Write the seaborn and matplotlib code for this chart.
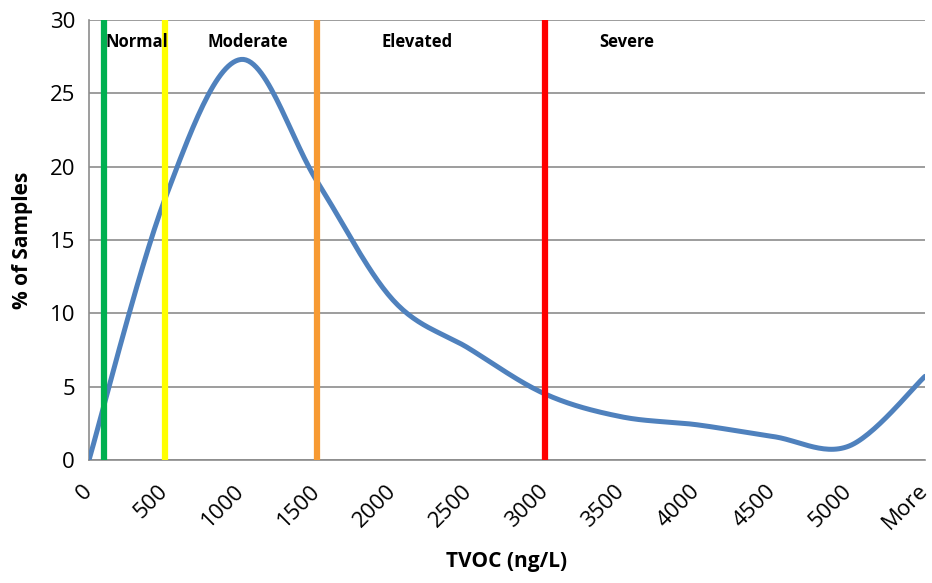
import numpy as np
import pandas as pd
import matplotlib
matplotlib.use('Agg')
import matplotlib.pyplot as plt
import seaborn as sns

# TVOC bins and share of samples
bins = ['0', '500', '1000', '1500', '2000', '2500', '3000', '3500', '4000', '4500', '5000', 'More']
pct_samples = [0.0, 17.8, 27.3, 19.0, 10.9, 7.6, 4.5, 2.95, 2.4, 1.6, 0.95, 5.7]

# category thresholds (ng/L) and their labels
thresholds = [100, 500, 1500, 3000]
threshold_colors = ['#00B050', '#FFFF00', '#F79A32', '#FF0000']
zone_names = ['Normal', 'Moderate', 'Elevated', 'Severe']
zone_centres = [315, 1045, 2160, 3540]

df = pd.DataFrame({'bin': bins, 'pct': pct_samples})
df['pos'] = np.arange(len(df))


def smooth(x, y, n=30):
    # Excel-style smoothed line: cubic Bezier with Catmull-Rom control points
    x = np.asarray(x, float)
    y = np.asarray(y, float)
    px = np.concatenate([[x[0]], x, [x[-1]]])
    py = np.concatenate([[y[0]], y, [y[-1]]])
    xs, ys = [], []
    t = np.linspace(0, 1, n, endpoint=False)
    for i in range(1, len(px) - 2):
        p0 = np.array([px[i], py[i]])
        p3 = np.array([px[i + 1], py[i + 1]])
        c1 = p0 + (np.array([px[i + 1], py[i + 1]]) - np.array([px[i - 1], py[i - 1]])) / 6
        c2 = p3 - (np.array([px[i + 2], py[i + 2]]) - np.array([px[i], py[i]])) / 6
        b = ((1 - t) ** 3)[:, None] * p0 + (3 * (1 - t) ** 2 * t)[:, None] * c1 \
            + (3 * (1 - t) * t ** 2)[:, None] * c2 + (t ** 3)[:, None] * p3
        xs.extend(b[:, 0])
        ys.extend(b[:, 1])
    xs.append(x[-1])
    ys.append(y[-1])
    return np.array(xs), np.array(ys)


sx, sy = smooth(df['pos'], df['pct'])
curve = pd.DataFrame({'x': sx, 'y': sy})

sns.set_style('white')
plt.rcParams['font.family'] = ['Open Sans', 'DejaVu Sans']
plt.rcParams['text.color'] = 'black'
plt.rcParams['axes.labelcolor'] = 'black'

fig = plt.figure(figsize=(9.32, 5.83), dpi=100)
ax = fig.add_axes([0.0955, 0.211, 0.897, 0.755])

ax.set_axisbelow(True)
ax.yaxis.grid(True, color='#8c8c8c', linewidth=1.2)

sns.lineplot(data=curve, x='x', y='y', color='#4F81BD', linewidth=3.6, sort=False,
             ax=ax, zorder=3)

for val, col in zip(thresholds, threshold_colors):
    ax.axvline(val / 500, ymin=0, ymax=1, color=col, linewidth=4.5, zorder=4)

for name, c in zip(zone_names, zone_centres):
    ax.text(c / 500, 28.5, name, ha='center', va='center', fontsize=12,
            fontweight='bold', zorder=5)

ax.set_xlim(0, len(bins) - 1)
ax.set_ylim(0, 30)
ax.set_yticks(range(0, 31, 5))
ax.set_xticks(df['pos'])
ax.set_xticklabels(bins, rotation=45, ha='right', va='center', rotation_mode='anchor')

ax.tick_params(axis='both', labelsize=16, length=6, width=1.2, color='#8c8c8c',
               labelcolor='black', direction='out')
ax.tick_params(axis='x', pad=14)
ax.tick_params(axis='y', pad=4)

for side in ['top', 'right']:
    ax.spines[side].set_visible(False)
for side in ['left', 'bottom']:
    ax.spines[side].set_color('#8c8c8c')
    ax.spines[side].set_linewidth(1.2)

ax.set_xlabel('TVOC (ng/L)', fontsize=15, fontweight='bold', labelpad=12)
ax.set_ylabel('% of Samples', fontsize=15, fontweight='bold', labelpad=12)

fig.savefig('out.png', dpi=100)
